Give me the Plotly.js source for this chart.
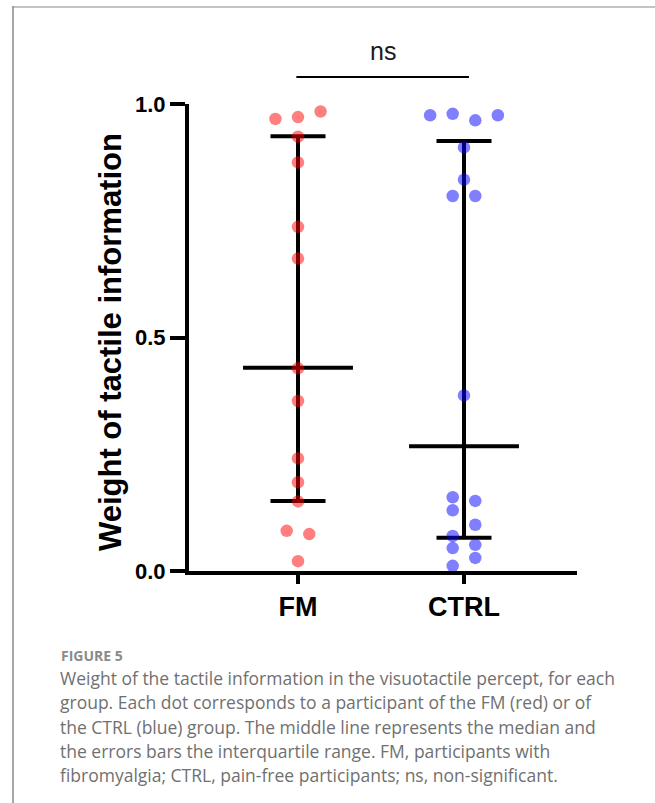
<!DOCTYPE html>
<html>
<head>
<meta charset="utf-8">
<script src="https://cdn.plot.ly/plotly-3.0.1.min.js"></script>
<style>
  html, body { margin: 0; padding: 0; background: #fff; }
  #chart { width: 655px; height: 803px; }
</style>
</head>
<body>
<div id="chart"></div>
<script>
// ---- data ----
const groups = ['FM', 'CTRL'];
const fmValues   = [0.968, 0.972, 0.984, 0.930, 0.875, 0.737, 0.669, 0.434, 0.364, 0.241, 0.190, 0.149, 0.086, 0.079, 0.021];
const fmColumn   = [-2, 0, 2, 0, 0, 0, 0, 0, 0, 0, 0, 0, -1, 1, 0];
const ctrlValues = [0.976, 0.979, 0.965, 0.976, 0.907, 0.838, 0.803, 0.803, 0.376, 0.158, 0.150, 0.130, 0.099, 0.075, 0.049, 0.056, 0.028, 0.011];
const ctrlColumn = [-3, -1, 1, 3, 0, 0, -1, 1, 0, -1, 1, -1, 1, -1, -1, 1, 1, -1];
const medians = [0.435, 0.267];
const q1s     = [0.150, 0.071];
const q3s     = [0.931, 0.921];
const yTickVals = [0, 0.5, 1.0];
const yTickText = ['0.0', '0.5', '1.0'];
const sigLabel = 'ns';
const yTitle = 'Weight of tactile information';
const captionHead = 'FIGURE 5';
const captionLines = [
  'Weight of the tactile information in the visuotactile percept, for each',
  'group. Each dot corresponds to a participant of the FM (red) or of',
  'the CTRL (blue) group. The middle line represents the median and',
  'the errors bars the interquartile range. FM, participants with',
  'fibromyalgia; CTRL, pain-free participants; ns, non-significant.'
];

// ---- layout helpers ----
const W = 655, H = 803;
const M = { l: 189, r: 78, t: 104, b: 232 };
const plotH = H - M.t - M.b, plotW = W - M.l - M.r;
const py = p => (H - M.b - p) / plotH;   // pixel y -> paper
const px = p => (p - M.l) / plotW;       // pixel x -> paper
const groupX = [1, 2];
const colStep = 0.068;
const FONT = 'Arial, "Liberation Sans", sans-serif';
const CAPFONT = '"Open Sans", sans-serif';

const traces = [
  {
    type: 'scatter', mode: 'markers', x: groupX, y: medians,
    marker: { size: 1, color: 'rgba(0,0,0,0)' },
    error_y: { type: 'data', symmetric: false,
      array: q3s.map((q, i) => q - medians[i]),
      arrayminus: medians.map((m, i) => m - q1s[i]),
      width: 27.5, thickness: 4, color: '#000' },
    error_x: { type: 'constant', value: 0.331, width: 0, thickness: 4, color: '#000' },
    hoverinfo: 'skip', showlegend: false, cliponaxis: false
  },
  {
    type: 'scatter', mode: 'markers', name: groups[0],
    x: fmColumn.map(c => groupX[0] + c * colStep), y: fmValues,
    marker: { size: 12.5, color: 'rgba(255,0,0,0.5)', line: { width: 0 } },
    showlegend: false, cliponaxis: false
  },
  {
    type: 'scatter', mode: 'markers', name: groups[1],
    x: ctrlColumn.map(c => groupX[1] + c * colStep), y: ctrlValues,
    marker: { size: 12.5, color: 'rgba(0,0,255,0.5)', line: { width: 0 } },
    showlegend: false, cliponaxis: false
  }
];

const annotations = [
  { text: sigLabel, xref: 'x', yref: 'paper', x: 1.51, y: py(51), xanchor: 'center', yanchor: 'middle',
    showarrow: false, font: { family: FONT, size: 25, color: '#1a1a1a' } },
  { text: '<b>' + yTitle + '</b>', xref: 'paper', yref: 'paper', x: px(110), y: py(342),
    xanchor: 'center', yanchor: 'middle',
    textangle: -90, showarrow: false, font: { family: FONT, size: 31, color: '#000' } },
  { text: '<b>' + captionHead + '</b>', xref: 'paper', yref: 'paper', x: px(59), y: py(655),
    xanchor: 'left', yanchor: 'middle', showarrow: false,
    font: { family: CAPFONT, size: 14, color: '#8a8a8a' } }
];
captionLines.forEach((t, i) => annotations.push({
  text: t, xref: 'paper', yref: 'paper', x: px(58), y: py(678 + i * 24.3),
  xanchor: 'left', yanchor: 'middle', showarrow: false,
  font: { family: CAPFONT, size: 17.5, color: '#707070' }
}));

const layout = {
  width: W, height: H, margin: M,
  paper_bgcolor: '#fff', plot_bgcolor: '#fff',
  showlegend: false,
  xaxis: {
    range: [0.3434, 2.6807], tickvals: groupX, ticktext: groups,
    showgrid: false, zeroline: false, showline: true, linewidth: 4, linecolor: '#000',
    ticks: 'outside', ticklen: 9, tickwidth: 4, tickcolor: '#000',
    tickfont: { family: FONT, size: 27, color: '#000', weight: 'bold' }
  },
  yaxis: {
    range: [0, 1], tickvals: yTickVals, ticktext: yTickText,
    showgrid: false, zeroline: false, showline: true, linewidth: 4, linecolor: '#000',
    ticks: 'outside', ticklen: 15, tickwidth: 4, tickcolor: '#000',
    tickfont: { family: FONT, size: 22, color: '#000', weight: 'bold' }
  },
  shapes: [
    { type: 'line', xref: 'x', yref: 'paper', x0: 0.99, x1: 2.03, y0: py(77), y1: py(77),
      line: { color: '#000', width: 2 } },
    // page frame (top and left border of the figure panel)
    { type: 'line', xref: 'paper', yref: 'paper', x0: px(12.5), x1: px(660), y0: py(7), y1: py(7),
      line: { color: '#c4c4c4', width: 2 } },
    { type: 'line', xref: 'paper', yref: 'paper', x0: px(13), x1: px(13), y0: py(6), y1: py(810),
      line: { color: '#8a8a8a', width: 1.5 } }
  ],
  annotations: annotations
};

Plotly.newPlot('chart', traces, layout, { staticPlot: true, displayModeBar: false });
</script>
</body>
</html>
